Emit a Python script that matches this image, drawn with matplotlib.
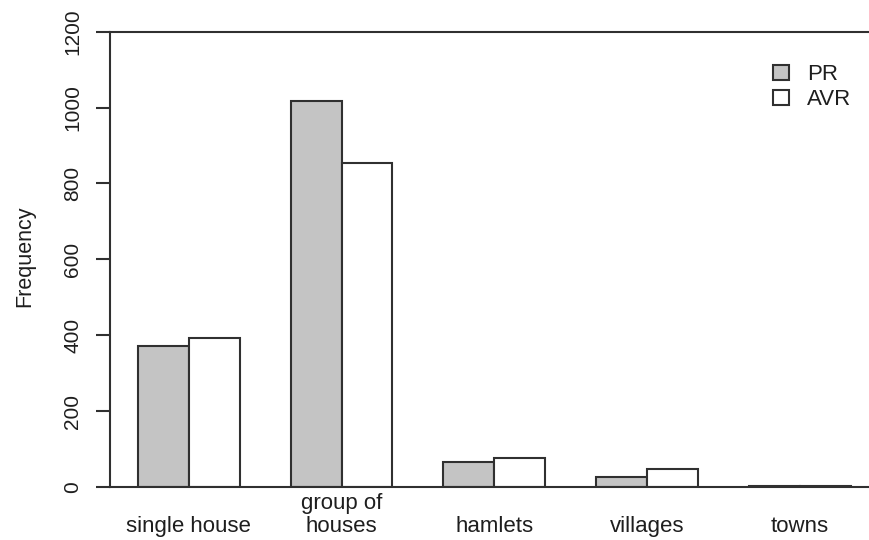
import matplotlib
matplotlib.use("Agg")
import matplotlib.pyplot as plt
import matplotlib.transforms as mtransforms
from matplotlib.patches import Patch
import numpy as np

plt.rcParams['font.family'] = ['Liberation Sans', 'DejaVu Sans']

categories = ["single house", "group of\nhouses", "hamlets", "villages", "towns"]
pr_values = [372, 1018, 65, 27, 3]
avr_values = [393, 855, 76, 47, 2]
series_names = ["PR", "AVR"]
yticks = [0, 200, 400, 600, 800, 1000, 1200]

fill_pr = "#c4c4c4"
fill_avr = "white"
edge = "#303030"
ink = "#1e1e1e"

W, H = 870, 540
fig = plt.figure(figsize=(W / 100, H / 100), dpi=100)

# plot box in pixels: left axis at x=110, y from 32 (top) to 487 (baseline),
# right edge runs off the canvas
left, top, bottom, right = 110, 31.7, 487, 880
ax = fig.add_axes([left / W, 1 - bottom / H, (right - left) / W, (bottom - top) / H])

# barplot-style layout: bars of width 1, one unit gap between groups
unit = 50.9
x0 = 87.1
ax.set_xlim((left - x0) / unit, (right - x0) / unit)
ax.set_ylim(0, 1200)

n = len(categories)
starts = 1 + 3 * np.arange(n)
ax.bar(starts, pr_values, width=1, align="edge", color=fill_pr,
       edgecolor=edge, linewidth=1.5)
ax.bar(starts + 1, avr_values, width=1, align="edge", color=fill_avr,
       edgecolor=edge, linewidth=1.5)

for side in ["left", "bottom", "top"]:
    ax.spines[side].set_linewidth(1.5)
    ax.spines[side].set_color(edge)
ax.spines["right"].set_visible(False)

ax.set_xticks([])
ax.set_yticks(yticks)
ax.set_yticklabels([str(v) for v in yticks], rotation=90, va="center")
ax.tick_params(axis="y", length=10, width=1.5, color=edge, pad=10,
               labelsize=15, labelcolor=ink)

# category labels, last lines share one baseline
label_tf = mtransforms.blended_transform_factory(ax.transData, fig.transFigure)
for xc, lab in zip(starts + 1, categories):
    ax.text(xc, 1 - 537 / H, lab, transform=label_tf,
            ha="center", va="bottom", multialignment="center",
            fontsize=16, color=ink, linespacing=1.15)

fig.text(25 / W, 1 - 256 / H, "Frequency", rotation=90, ha="center",
         va="center", fontsize=15.5, color=ink)

handles = [Patch(facecolor=fill_pr, edgecolor=edge, linewidth=1.5),
           Patch(facecolor=fill_avr, edgecolor=edge, linewidth=1.5)]
fig.legend(handles, series_names, loc="upper left",
           bbox_to_anchor=(773 / W, 1 - 64 / H), frameon=False,
           borderpad=0, borderaxespad=0, handlelength=0.7, handleheight=0.65,
           handletextpad=0.85, labelspacing=0.2, fontsize=16,
           labelcolor=ink)

fig.savefig("out.png", dpi=100)
